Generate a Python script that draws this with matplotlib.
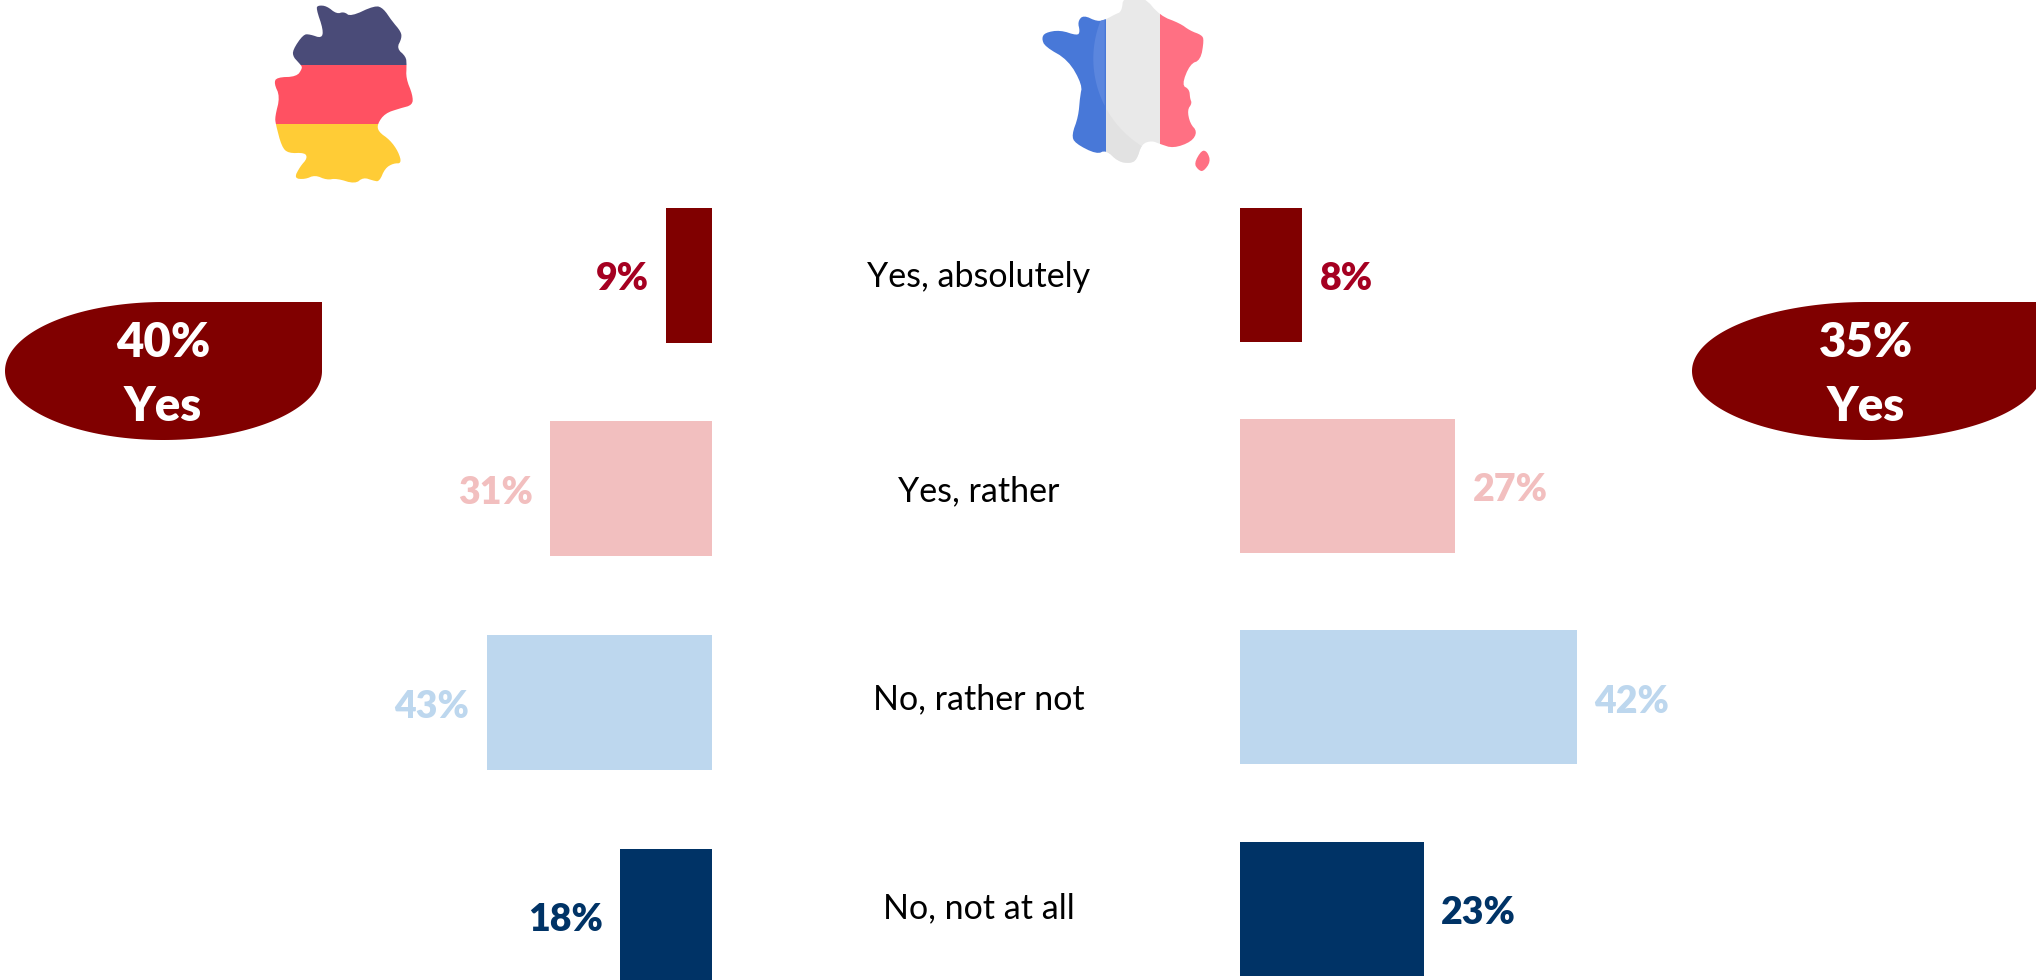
import numpy as np
import matplotlib
matplotlib.use("Agg")
import matplotlib.pyplot as plt
from matplotlib.patches import PathPatch, Polygon, Rectangle
from matplotlib.path import Path

categories = ["Yes, absolutely", "Yes, rather", "No, rather not", "No, not at all"]
germany_labels = ["9%", "31%", "43%", "18%"]
france_labels = ["8%", "27%", "42%", "23%"]
# bar lengths, they are not quite the rounded labels
germany_values = [8.9, 31.1, 43.2, 17.7]
france_values = [7.8, 27.0, 42.2, 23.0]
germany_yes = "40%"
france_yes = "35%"
answer_colors = ["#800000", "#F2BFBF", "#BDD7EE", "#003366"]
label_colors = ["#A50021", "#F2BFBF", "#BDD7EE", "#003366"]

# map outlines (3x crop pixels)
germany_outline = [
    (288, 25), (295, 16), (320, 18), (350, 42), (372, 35), (392, 50), (465, 16), (490, 25),
    (515, 62), (543, 95), (545, 115), (530, 145), (558, 170), (560, 195), (558, 235), (578, 285),
    (578, 315), (540, 325), (495, 340), (472, 372), (475, 395), (510, 420), (535, 455), (545, 490),
    (520, 490), (495, 505), (478, 545), (460, 542), (430, 532), (405, 552), (350, 535), (320, 540),
    (285, 525), (255, 538), (222, 535), (240, 500), (262, 475), (255, 458), (205, 460), (185, 440),
    (167, 372), (165, 350), (180, 290), (162, 250), (170, 232), (230, 230), (247, 205), (243, 195),
    (220, 172), (218, 150), (250, 103), (270, 103), (305, 115), (310, 90),
]
france_outline = [
    (125, 115), (135, 98), (180, 90), (232, 107), (240, 95), (233, 65), (250, 45), (292, 65),
    (318, 58), (345, 43), (365, 35), (370, -10), (432, -10), (480, 47), (540, 70), (570, 92),
    (605, 105), (612, 120), (602, 180), (570, 192), (545, 255), (568, 268), (570, 295), (576, 310),
    (562, 330), (570, 370), (592, 395), (575, 425), (520, 445), (480, 432), (455, 422), (425, 432),
    (410, 480), (390, 490), (355, 485), (318, 450), (290, 463), (225, 430), (215, 405), (235, 350),
    (240, 290), (247, 255), (205, 180), (135, 140),
]
corsica_outline = [(605, 450), (622, 455), (632, 485), (610, 515), (595, 510), (582, 490)]

plt.rcParams["font.family"] = ["Lato", "DejaVu Sans"]

W, H = 2036, 980


def _smooth(points, rounds=2):
    pts = np.array(points, dtype=float)
    for _ in range(rounds):
        nxt = np.roll(pts, -1, axis=0)
        pts = np.column_stack([0.75 * pts + 0.25 * nxt, 0.25 * pts + 0.75 * nxt]).reshape(-1, 2)
    return pts


def _crop_to_px(points, x0):
    pts = np.array(points, dtype=float) / 3.0
    pts[:, 0] += x0
    return pts


def _bar_axes(fig, left_px, right_px, top_center, step):
    ax = fig.add_axes([left_px / W, 0, (right_px - left_px) / W, 1])
    # y is in category units, set so the bar centres land on the reference rows
    ax.set_ylim((H - top_center) / step, -top_center / step)
    ax.axis("off")
    return ax


def _draw_germany(ax):
    outline = PathPatch(Path(_smooth(_crop_to_px(germany_outline, 220)), closed=False), fc="none", ec="none")
    ax.add_patch(outline)
    bands = [(0, 65, "#4A4B78"), (65, 124, "#FF5162"), (124, 190, "#FFCC36")]
    for y0, y1, color in bands:
        band = Rectangle((260, y0), 180, y1 - y0, fc=color, ec="none")
        ax.add_patch(band)
        band.set_clip_path(outline)


def _draw_france(ax):
    outline = PathPatch(Path(_smooth(_crop_to_px(france_outline, 1000)), closed=False), fc="none", ec="none")
    ax.add_patch(outline)
    bands = [(1030, 1106, "#4878D8"), (1106, 1160, "#E9E9E9"), (1160, 1220, "#FF7083")]
    for x0, x1, color in bands:
        band = Rectangle((x0, -5), x1 - x0, 175, fc=color, ec="none")
        ax.add_patch(band)
        band.set_clip_path(outline)

    # soft round highlight across the blue and white stripes
    cx, cy, r = 1196.3, 58.7, 103.0
    angles = np.radians(np.linspace(60, 300, 120))
    arc = np.column_stack([cx + r * np.cos(angles), cy + r * np.sin(angles)])
    lens = Polygon(arc[arc[:, 0] <= 1106], closed=True, fc="#5B86DE", ec="none")
    ax.add_patch(lens)
    lens.set_clip_path(outline)
    lower = arc[(arc[:, 0] >= 1106) & (arc[:, 1] > cy) & (arc[:, 0] <= 1160)]
    shade_pts = np.vstack([lower, [[1106, 175], [1160, 175]]])
    shade = Polygon(shade_pts, closed=True, fc="#E2E2E2", ec="none")
    ax.add_patch(shade)
    shade.set_clip_path(outline)

    ax.add_patch(Polygon(_smooth(_crop_to_px(corsica_outline, 1000)), closed=True, fc="#FF7083", ec="none"))


def _draw_badge(ax, cx, a, text_x, share):
    cy, b = 371, 69
    angles = np.radians(np.linspace(0, 270, 200))
    lower = np.column_stack([cx + a * np.cos(angles), cy + b * np.sin(angles)])
    # upper right quarter has a square corner
    corner = np.array([[cx, cy - b], [cx + a, cy - b]])
    ax.add_patch(Polygon(np.vstack([lower, corner]), closed=True, fc="#800000", ec="none"))
    ax.text(text_x, 343, share, color="white", fontsize=34, fontweight="heavy", ha="center", va="center")
    ax.text(text_x, 407, "Yes", color="white", fontsize=34, fontweight="heavy", ha="center", va="center")


def main() -> None:
    fig = plt.figure(figsize=(W / 100, H / 100), dpi=100, facecolor="white")

    ax_ger = _bar_axes(fig, 712.3 - 50 * 5.22, 712.3, 275.2, 213.67)
    ax_ger.set_xlim(50, 0)
    ax_ger.barh(range(4), germany_values, height=135 / 213.67, color=answer_colors)
    for i, value in enumerate(germany_values):
        ax_ger.annotate(germany_labels[i], (value, i), xytext=(-12.5, -3), textcoords="offset points",
                        ha="right", va="center", fontsize=27, fontweight="heavy", color=label_colors[i])

    ax_fra = _bar_axes(fig, 1240, 1240 + 50 * 7.98, 274.9, 211.3)
    ax_fra.set_xlim(0, 50)
    ax_fra.barh(range(4), france_values, height=134 / 211.3, color=answer_colors)
    for i, value in enumerate(france_values):
        ax_fra.annotate(france_labels[i], (value, i), xytext=(12.5, -3), textcoords="offset points",
                        ha="left", va="center", fontsize=27, fontweight="heavy", color=label_colors[i])

    overlay = fig.add_axes([0, 0, 1, 1])
    overlay.set_xlim(0, W)
    overlay.set_ylim(H, 0)
    overlay.axis("off")
    overlay.patch.set_alpha(0)

    _draw_germany(overlay)
    _draw_france(overlay)
    _draw_badge(overlay, 163.5, 158.5, 163, germany_yes)
    _draw_badge(overlay, 1867, 175, 1866, france_yes)

    for label, y in zip(categories, [277, 491, 699, 908]):
        overlay.text(979, y, label, ha="center", va="center", fontsize=24.5, color="black")

    fig.savefig("out.png", dpi=100)
    plt.close(fig)


if __name__ == "__main__":
    main()
